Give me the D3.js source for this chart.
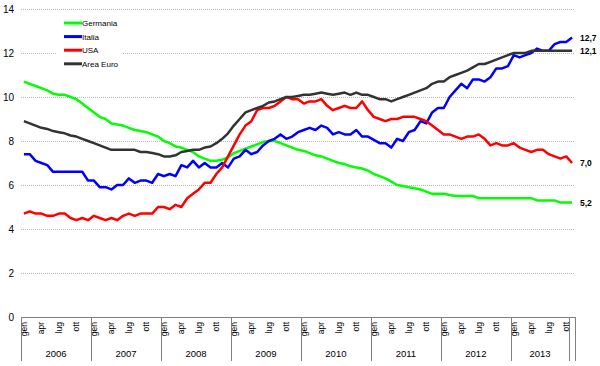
<!DOCTYPE html>
<html>
<head>
<meta charset="utf-8">
<script src="https://cdn.jsdelivr.net/npm/d3@7"></script>
<style>
    body { margin: 0; background: #fff; }
    svg { display: block; font-family: "Liberation Sans", Arial, sans-serif; }
</style>
</head>
<body>
<svg id="chart" width="600" height="366"></svg>
<script>
/** ------------- DATA -------------- */

const years = ["2006", "2007", "2008", "2009", "2010", "2011", "2012", "2013"];
const monthNames = ["gen", "apr", "lug", "ott"];
const yTicks = [0, 2, 4, 6, 8, 10, 12, 14];

// monthly values, gen 2006 - nov 2013
const germania = [
    10.7, 10.6, 10.5, 10.4, 10.3, 10.15, 10.1, 10.1, 10.0, 9.9, 9.7, 9.5,
    9.3, 9.1, 9.0, 8.8, 8.75, 8.7, 8.6, 8.5, 8.45, 8.4, 8.3, 8.2,
    8.0, 7.9, 7.75, 7.7, 7.6, 7.5, 7.3, 7.2, 7.1, 7.1, 7.15, 7.25,
    7.45, 7.55, 7.65, 7.75, 7.85, 7.95, 8.0, 8.0, 7.9, 7.8, 7.7, 7.6,
    7.55, 7.45, 7.35, 7.3, 7.2, 7.1, 7.0, 6.95, 6.85, 6.8, 6.75, 6.65,
    6.5, 6.4, 6.3, 6.15, 6.0, 5.95, 5.9, 5.85, 5.8, 5.7, 5.6, 5.6,
    5.6, 5.55, 5.5, 5.5, 5.5, 5.5, 5.4, 5.4, 5.4, 5.4, 5.4, 5.4,
    5.4, 5.4, 5.4, 5.4, 5.3, 5.3, 5.3, 5.3, 5.2, 5.2, 5.2
];
const italia = [
    7.4, 7.4, 7.1, 7.0, 6.9, 6.6, 6.6, 6.6, 6.6, 6.6, 6.6, 6.2,
    6.2, 5.9, 5.9, 5.8, 6.0, 6.0, 6.3, 6.1, 6.2, 6.2, 6.1, 6.5,
    6.4, 6.5, 6.4, 6.9, 6.8, 7.1, 6.8, 7.0, 6.8, 6.8, 7.0, 6.8,
    7.2, 7.3, 7.6, 7.4, 7.5, 7.8, 8.0, 8.1, 8.3, 8.1, 8.2, 8.4,
    8.5, 8.6, 8.5, 8.7, 8.6, 8.3, 8.4, 8.3, 8.3, 8.5, 8.2, 8.2,
    8.05, 7.9, 7.9, 7.7, 8.1, 8.0, 8.4, 8.5, 8.9, 8.8, 9.3, 9.5,
    9.5, 10.0, 10.3, 10.6, 10.4, 10.8, 10.8, 10.7, 10.9, 11.3, 11.3, 11.4,
    11.9, 11.8, 11.9, 12.0, 12.2, 12.1, 12.1, 12.4, 12.5, 12.5, 12.7
];
const usa = [
    4.7, 4.8, 4.7, 4.7, 4.6, 4.6, 4.7, 4.7, 4.5, 4.4, 4.5, 4.4,
    4.6, 4.5, 4.4, 4.5, 4.4, 4.6, 4.7, 4.6, 4.7, 4.7, 4.7, 5.0,
    5.0, 4.9, 5.1, 5.0, 5.4, 5.6, 5.8, 6.1, 6.1, 6.5, 6.8, 7.3,
    7.8, 8.3, 8.7, 8.9, 9.4, 9.5, 9.5, 9.6, 9.8, 10.0, 9.9, 9.9,
    9.7, 9.8, 9.8, 9.9, 9.6, 9.4, 9.5, 9.6, 9.5, 9.5, 9.8, 9.4,
    9.1, 9.0, 8.9, 9.0, 9.0, 9.1, 9.1, 9.1, 9.0, 8.9, 8.7, 8.5,
    8.3, 8.3, 8.2, 8.1, 8.2, 8.2, 8.3, 8.1, 7.8, 7.9, 7.8, 7.8,
    7.9, 7.7, 7.6, 7.5, 7.6, 7.6, 7.4, 7.3, 7.2, 7.3, 7.0
];
const areaEuro = [
    8.9, 8.8, 8.7, 8.6, 8.55, 8.45, 8.4, 8.35, 8.25, 8.2, 8.1, 8.0,
    7.9, 7.8, 7.7, 7.6, 7.6, 7.6, 7.6, 7.6, 7.5, 7.5, 7.45, 7.4,
    7.3, 7.3, 7.35, 7.5, 7.55, 7.6, 7.6, 7.7, 7.75, 7.9, 8.1, 8.35,
    8.7, 9.0, 9.3, 9.4, 9.5, 9.6, 9.75, 9.8, 9.9, 10.0, 10.0, 10.05,
    10.1, 10.1, 10.15, 10.2, 10.15, 10.1, 10.15, 10.2, 10.1, 10.2, 10.1, 10.1,
    10.0, 9.9, 9.9, 9.8, 9.9, 10.0, 10.1, 10.2, 10.3, 10.4, 10.6, 10.7,
    10.7, 10.9, 11.0, 11.1, 11.2, 11.35, 11.5, 11.5, 11.6, 11.7, 11.8, 11.9,
    12.0, 12.0, 12.0, 12.1, 12.1, 12.1, 12.1, 12.1, 12.1, 12.1, 12.1
];

const seriesNames = ["Germania", "Italia", "USA", "Area Euro"];
const seriesColors = ["#00ff00", "#0000ff", "#ff0000", "#333333"];
const seriesValues = [germania, italia, usa, areaEuro];
const endLabels = ["5,2", "12,7", "7,0", "12,1"];

/** ------------- CHART -------------- */

const svg = d3.select("#chart");
const plotLeft = 21;
const plotRight = 575;
const plotTop = 9;
const plotBottom = 317;
const nMonths = germania.length;

const x = d3.scaleBand().domain(d3.range(nMonths)).range([plotLeft, plotRight]);
const y = d3.scaleLinear().domain([0, 14]).range([plotBottom, plotTop]);
const cx = (i) => x(i) + x.bandwidth() / 2;

/** gridlines and y labels */
svg.append("g")
    .selectAll("line")
    .data(yTicks.filter((d) => d > 0))
    .join("line")
    .attr("x1", plotLeft)
    .attr("x2", plotRight)
    .attr("y1", (d) => y(d) + 0.5)
    .attr("y2", (d) => y(d) + 0.5)
    .attr("stroke", "#b8b8b8")
    .attr("stroke-dasharray", "1,1");

svg.append("g")
    .selectAll("text")
    .data(yTicks)
    .join("text")
    .attr("x", 14)
    .attr("y", (d) => y(d) + 3.5)
    .attr("text-anchor", "end")
    .attr("font-size", 10)
    .attr("fill", "#000")
    .text((d) => d);

/** x axis: line, year separators, month and year labels */
svg.append("line")
    .attr("x1", plotLeft)
    .attr("x2", plotRight)
    .attr("y1", plotBottom + 0.5)
    .attr("y2", plotBottom + 0.5)
    .attr("stroke", "#808080");

const seps = years.map((yr, k) => x(k * 12));
seps.push(x(nMonths - 1), plotRight);
svg.append("g")
    .selectAll("line")
    .data(seps)
    .join("line")
    .attr("x1", (d) => Math.round(d) + 0.5)
    .attr("x2", (d) => Math.round(d) + 0.5)
    .attr("y1", plotBottom)
    .attr("y2", 361)
    .attr("stroke", "#808080");

svg.append("g")
    .selectAll("text")
    .data(d3.range(nMonths).filter((i) => i % 3 === 0))
    .join("text")
    .attr("transform", (i) => `translate(${cx(i) + 3},322) rotate(-90)`)
    .attr("text-anchor", "end")
    .attr("font-size", 8.5)
    .text((i) => monthNames[(i % 12) / 3]);

svg.append("g")
    .selectAll("text")
    .data(years)
    .join("text")
    .attr("x", (d, k) => (x(k * 12) + (k === years.length - 1 ? x(nMonths - 1) : x(k * 12 + 12))) / 2)
    .attr("y", 357)
    .attr("text-anchor", "middle")
    .attr("font-size", 9.5)
    .text((d) => d);

/** lines */
const line = d3.line()
    .x((d, i) => cx(i))
    .y((d) => y(d));

svg.append("g")
    .selectAll("path")
    .data(seriesValues)
    .join("path")
    .attr("d", line)
    .attr("fill", "none")
    .attr("stroke", (d, k) => seriesColors[k])
    .attr("stroke-width", 2.5)
    .attr("stroke-linejoin", "round");

/** end labels */
svg.append("g")
    .selectAll("text")
    .data(seriesValues)
    .join("text")
    .attr("x", 580)
    .attr("y", (d) => y(d[d.length - 1]) + 3)
    .attr("font-size", 8.5)
    .attr("font-weight", "bold")
    .text((d, k) => endLabels[k]);

/** legend */
const legend = svg.append("g");
legend.append("rect")
    .attr("x", 57)
    .attr("y", 13)
    .attr("width", 66)
    .attr("height", 58)
    .attr("fill", "#fff");

const items = legend.selectAll("g")
    .data(seriesNames)
    .join("g")
    .attr("transform", (d, k) => `translate(0,${23 + k * 13.6})`);
items.append("line")
    .attr("x1", 64)
    .attr("x2", 82)
    .attr("stroke", (d, k) => seriesColors[k])
    .attr("stroke-width", 3);
items.append("text")
    .attr("x", 82)
    .attr("y", 3)
    .attr("font-size", 8)
    .text((d) => d);
</script>
</body>
</html>
